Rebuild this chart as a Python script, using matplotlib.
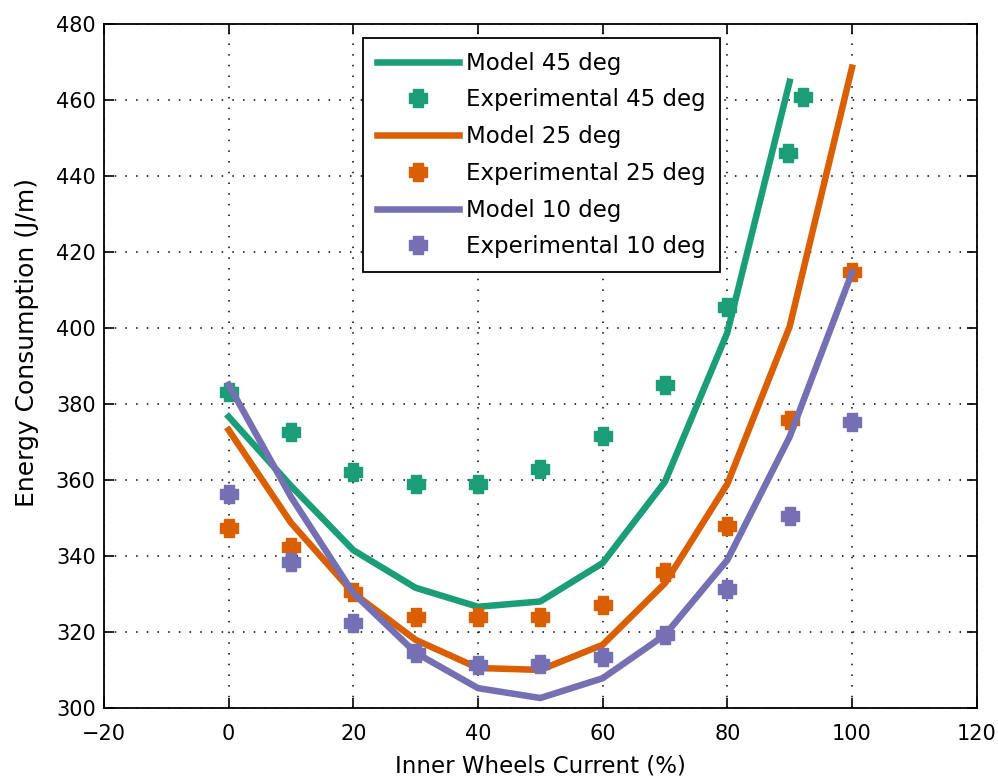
import matplotlib
matplotlib.use("Agg")
import matplotlib.pyplot as plt
from matplotlib.path import Path
import numpy as np

# ---- data ----
x_model45 = [0, 10, 20, 30, 40, 50, 60, 70, 80, 90]
y_model45 = [376.7, 358.5, 341.6, 331.7, 326.7, 328.1, 338.2, 359.6, 398.8, 464.8]
x_exp45 = [0, 10, 20, 30, 40, 50, 60, 70, 80, 89.7, 92.1]
y_exp45 = [383.2, 372.7, 362.2, 359.0, 359.0, 362.9, 371.5, 385.1, 405.6, 446.1, 460.9]

x_model25 = [0, 10, 20, 30, 40, 50, 60, 70, 80, 90, 100]
y_model25 = [373.2, 348.8, 330.3, 318.0, 310.6, 310.1, 316.7, 332.9, 359.0, 400.4, 468.5]
x_exp25 = [0, 10, 20, 30, 40, 50, 60, 70, 80, 90, 100]
y_exp25 = [347.5, 342.4, 330.6, 324.0, 324.0, 324.0, 327.2, 335.9, 348.0, 375.9, 414.8]

x_model10 = [0, 10, 20, 30, 40, 50, 60, 70, 80, 90, 100]
y_model10 = [385.1, 355.6, 330.3, 314.6, 305.3, 302.7, 307.9, 319.3, 339.0, 371.4, 414.6]
x_exp10 = [0, 10, 20, 30, 40, 50, 60, 70, 80, 90, 100]
y_exp10 = [356.4, 338.5, 322.4, 314.6, 311.4, 311.7, 313.4, 319.3, 331.3, 350.7, 375.4]

labels = ["Model 45 deg", "Experimental 45 deg", "Model 25 deg",
          "Experimental 25 deg", "Model 10 deg", "Experimental 10 deg"]
xticks = [-20, 0, 20, 40, 60, 80, 100, 120]
yticks = [300, 320, 340, 360, 380, 400, 420, 440, 460, 480]

green = "#1b9e77"
orange = "#d95f02"
purple = "#7570b3"

# chunky plus marker
a, b = 0.27, 0.5
verts = [(-a, b), (a, b), (a, a), (b, a), (b, -a), (a, -a), (a, -b), (-a, -b),
         (-a, -a), (-b, -a), (-b, a), (-a, a), (-a, b)]
plus = Path(verts, closed=True)

plt.rcParams['font.family'] = ['DejaVu Sans']

fig = plt.figure(figsize=(9.98, 7.78), dpi=100)
ax = fig.add_axes([0.1042, 0.0896, 0.8744, 0.8796])

lw = 4.7
ms = 12.5
ax.plot(x_model45, y_model45, color=green, lw=lw, label=labels[0])
ax.plot(x_exp45, y_exp45, ls='none', marker=plus, ms=ms, color=green, mec=green, label=labels[1])
ax.plot(x_model25, y_model25, color=orange, lw=lw, label=labels[2])
ax.plot(x_exp25, y_exp25, ls='none', marker=plus, ms=ms, color=orange, mec=orange, label=labels[3])
ax.plot(x_model10, y_model10, color=purple, lw=lw, label=labels[4])
ax.plot(x_exp10, y_exp10, ls='none', marker=plus, ms=ms, color=purple, mec=purple, label=labels[5])

ax.set_xlim(-20, 120)
ax.set_ylim(300, 480)
ax.set_xticks(xticks)
ax.set_yticks(yticks)
ax.tick_params(direction='in', length=7, width=1.2, top=True, right=True,
               labelsize=15, colors='black')
ax.tick_params(axis='x', pad=11)
ax.tick_params(axis='y', pad=6)
ax.grid(True, color='black', linestyle=(0, (1, 6)), linewidth=1.1)
for s in ax.spines.values():
    s.set_linewidth(1.3)

ax.set_xlabel("Inner Wheels Current (%)", fontsize=16.5)
ax.set_ylabel("Energy Consumption (J/m)", fontsize=18)
ax.xaxis.set_label_coords(0.5, -0.067)
ax.xaxis.label.set_verticalalignment('top')
ax.yaxis.set_label_coords(-0.088, 0.535)
ax.yaxis.label.set_verticalalignment('center')

leg = ax.legend(loc='upper left', bbox_to_anchor=(0.297, 0.9795), fontsize=16.5,
                frameon=True, fancybox=False, edgecolor='black', framealpha=1,
                handlelength=3.6, handletextpad=0.3, labelspacing=0.6,
                borderpad=0.6, borderaxespad=0.0)
leg.get_frame().set_linewidth(1.3)

fig.savefig("out.png", dpi=100)
